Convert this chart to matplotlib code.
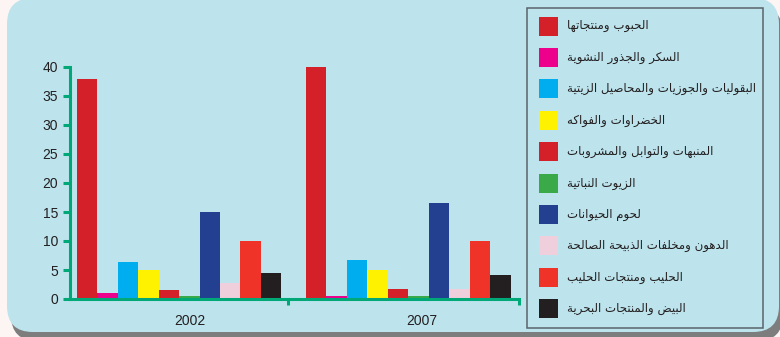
import matplotlib
matplotlib.use('Agg')
import numpy as np
import matplotlib.pyplot as plt
from matplotlib.patches import FancyBboxPatch, Rectangle
from matplotlib.transforms import IdentityTransform

years = ['2002', '2007']
groups = ['الحبوب ومنتجاتها', 'السكر والجذور النشوية',
          'البقوليات والجوزيات والمحاصيل الزيتية', 'الخضراوات والفواكه',
          'المنبهات والتوابل والمشروبات', 'الزيوت النباتية', 'لحوم الحيوانات',
          'الدهون ومخلفات الذبيحة الصالحة', 'الحليب ومنتجات الحليب',
          'البيض والمنتجات البحرية']
v2002 = [38.0, 1.0, 6.3, 5.0, 1.5, 0.6, 15.0, 2.7, 10.0, 4.4]
v2007 = [40.0, 0.6, 6.8, 5.0, 1.7, 0.6, 16.5, 1.7, 10.0, 4.2]
colors = ['#d42129', '#ec008c', '#00aeef', '#fff200', '#d42129',
          '#3aaa49', '#233f8f', '#f0cfdc', '#ef3329', '#231f20']

# matplotlib has no arabic shaping -> pick presentation forms by hand
FORMS = {'ا': 0xFE8D, 'أ': 0xFE83, 'إ': 0xFE87, 'آ': 0xFE81, 'ب': 0xFE8F,
         'ة': 0xFE93, 'ت': 0xFE95, 'ث': 0xFE99, 'ج': 0xFE9D, 'ح': 0xFEA1,
         'خ': 0xFEA5, 'د': 0xFEA9, 'ذ': 0xFEAB, 'ر': 0xFEAD, 'ز': 0xFEAF,
         'س': 0xFEB1, 'ش': 0xFEB5, 'ص': 0xFEB9, 'ض': 0xFEBD, 'ط': 0xFEC1,
         'ظ': 0xFEC5, 'ع': 0xFEC9, 'غ': 0xFECD, 'ف': 0xFED1, 'ق': 0xFED5,
         'ك': 0xFED9, 'ل': 0xFEDD, 'م': 0xFEE1, 'ن': 0xFEE5, 'ه': 0xFEE9,
         'و': 0xFEED, 'ى': 0xFEEF, 'ي': 0xFEF1}
RIGHT_ONLY = set('اأإآةدذرزوى')

def shape(s):
    res = []
    for i, c in enumerate(s):
        if c not in FORMS:
            res.append(c)
            continue
        prev = s[i-1] if i > 0 else ''
        nxt = s[i+1] if i+1 < len(s) else ''
        jp = prev in FORMS and prev not in RIGHT_ONLY
        jn = c not in RIGHT_ONLY and nxt in FORMS
        k = 3 if (jp and jn) else 1 if jp else 2 if jn else 0
        res.append(chr(FORMS[c]+k))
    return ''.join(res[::-1])

W, H = 780, 337
fig = plt.figure(figsize=(W/100, H/100), dpi=100, facecolor='#fdf5f4')
px = IdentityTransform()

# card background with shadow
fig.patches.append(FancyBboxPatch((11, -4), 772, 334, boxstyle='round,pad=0,rounding_size=26',
                                  transform=px, fc='#7d7d7d', ec='none', zorder=-10))
fig.patches.append(FancyBboxPatch((7, 5), 772, 334, boxstyle='round,pad=0,rounding_size=26',
                                  transform=px, fc='#bde4ed', ec='none', zorder=-9))
# legend frame
fig.patches.append(Rectangle((527, H-328), 236, 320, transform=px,
                             fc='none', ec='#59636a', lw=1.1, zorder=-8))

ax = fig.add_axes([70/W, 38/H, 449/W, 232/H])
ax.set_facecolor('none')

green = '#00a878'
w = 0.0894
x = np.arange(len(years))
for j in range(len(groups)):
    vals = [v2002[j], v2007[j]]
    ax.bar(x + (j-4.5)*w, vals, width=w, color=colors[j], linewidth=0)

ax.set_xlim(-0.476, 1.484)
ax.set_ylim(0, 40)
for s in ['top', 'right']:
    ax.spines[s].set_visible(False)
for s in ['left', 'bottom']:
    ax.spines[s].set_color(green)
    ax.spines[s].set_linewidth(2.2)
    ax.spines[s].set_capstyle('projecting')

ax.set_yticks(range(0, 45, 5))
ax.tick_params(axis='y', direction='out', length=5, width=2.2, color=green,
               labelsize=10, labelcolor='#231f20', pad=3.5)
ax.set_xticks([0.046, 1.06])
ax.set_xticklabels(years)
ax.tick_params(axis='x', which='major', length=0, labelsize=10, labelcolor='#231f20', pad=11)
ax.set_xticks([0.476, 1.484], minor=True)
ax.tick_params(axis='x', which='minor', direction='out', length=4, width=2.2, color=green)
for t in ax.get_xticklabels() + ax.get_yticklabels():
    t.set_family(['Liberation Sans', 'DejaVu Sans'])

# legend, drawn by hand so the rows sit where they do in the print
for j, g in enumerate(groups):
    yc = H - (26 + j*31.4)
    fig.patches.append(Rectangle((539, yc-9.5), 19, 19, transform=px,
                                 fc=colors[j], ec='none'))
    fig.text(567, yc, shape(g), transform=px, ha='left', va='center',
             family='DejaVu Sans', fontsize=8.5, color='#231f20')

fig.savefig('out.png', dpi=100, facecolor=fig.get_facecolor())
